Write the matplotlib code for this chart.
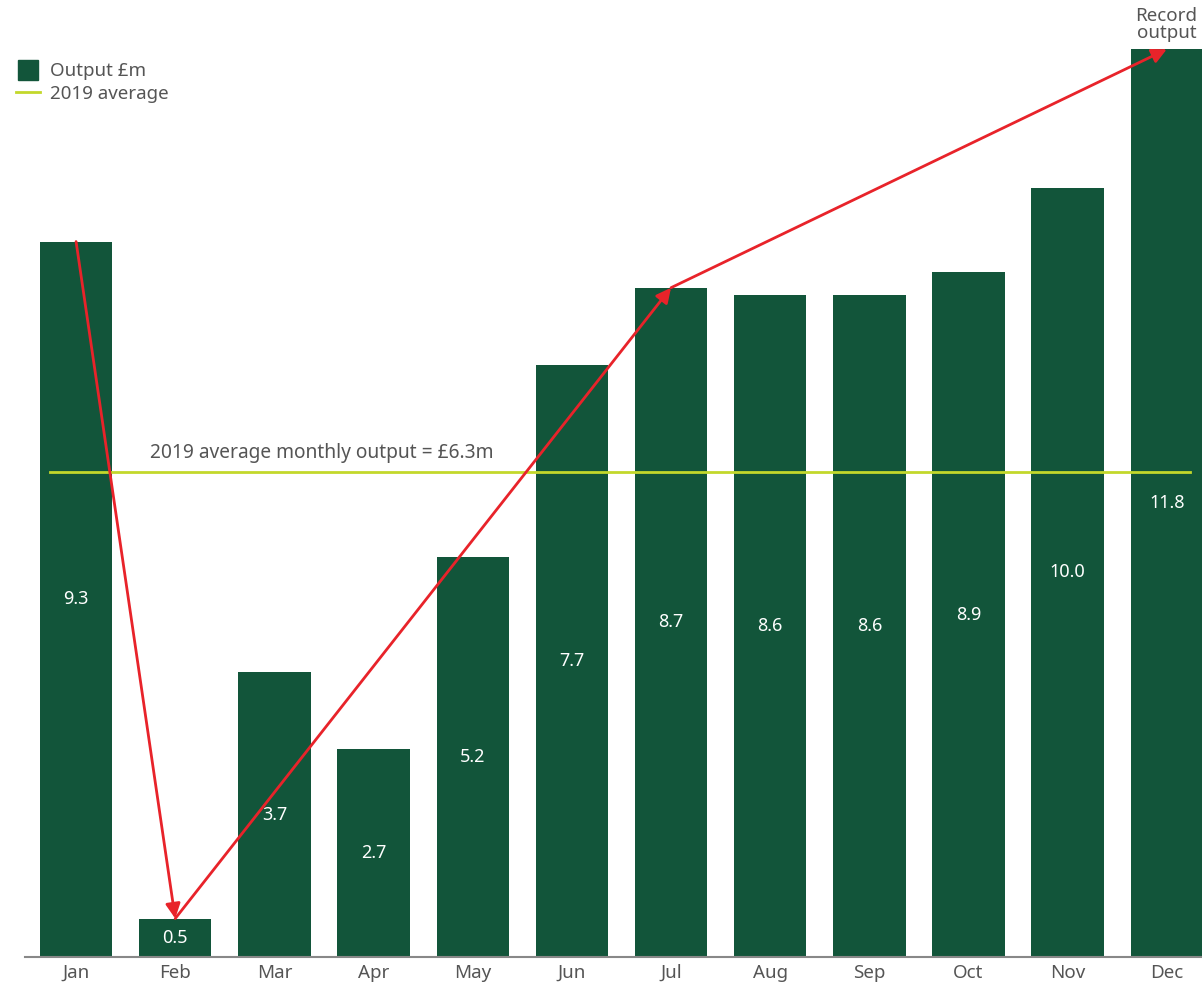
import matplotlib.pyplot as plt
from matplotlib.lines import Line2D

plt.rcParams["font.family"] = ["Noto Sans", "DejaVu Sans"]

months = ["Jan", "Feb", "Mar", "Apr", "May", "Jun", "Jul", "Aug", "Sep", "Oct", "Nov", "Dec"]
output = [9.3, 0.5, 3.7, 2.7, 5.2, 7.7, 8.7, 8.6, 8.6, 8.9, 10.0, 11.8]
avg_2019 = 6.3
arrow_path = ["Jan", "Feb", "Jul", "Dec"]

bar_col = "#12553a"
avg_col = "#c3d82b"
red = "#e8232a"
txt = "#555555"

fig = plt.figure(figsize=(12.02, 9.82), dpi=100)
ax = fig.add_axes([25 / 1202, 25 / 982, 1177 / 1202, 957 / 982])

x = list(range(len(months)))
ax.bar(x, output, width=0.73, color=bar_col, zorder=2)

# value labels in the middle of each bar
for xi, v in zip(x, output):
    ax.text(xi, v / 2, f"{v:.1f}", ha="center", va="center", color="white", fontsize=13, zorder=3)

# 2019 average line
ax.plot([-0.26, 11.23], [avg_2019, avg_2019], color=avg_col, lw=2, zorder=3)
ax.annotate("2019 average monthly output = £6.3m", xy=(0.75, avg_2019), xytext=(0, 7),
            textcoords="offset points", ha="left", va="bottom", color=txt, fontsize=13.8)

# red arrows between key months
idx = [months.index(m) for m in arrow_path]
for a, b in zip(idx[:-1], idx[1:]):
    ax.annotate("", xy=(b, output[b]), xytext=(a, output[a]),
                arrowprops=dict(arrowstyle="-|>", color=red, lw=2, mutation_scale=22,
                                shrinkA=0, shrinkB=0), zorder=4)

fig.text(1197 / 1202, 1 - 7 / 982, "Record\noutput", ha="right", va="top",
         color=txt, fontsize=13.5, linespacing=0.95)

ax.set_xlim(-0.515, 11.355)
ax.set_ylim(0, 12.44)
ax.set_xticks(x)
ax.set_xticklabels(months, fontsize=13.5, color=txt)
ax.tick_params(axis="x", length=0, pad=5)
ax.set_yticks([])
for s in ["top", "right", "left"]:
    ax.spines[s].set_visible(False)
ax.spines["bottom"].set_color("#888888")
ax.spines["bottom"].set_linewidth(1.5)

handles = [Line2D([], [], marker="s", markersize=14, linestyle="", color=bar_col, label="Output £m"),
           Line2D([], [], color=avg_col, lw=2, label="2019 average")]
fig.legend(handles=handles, loc="upper left", bbox_to_anchor=(0.004, 0.948), frameon=False,
           fontsize=13.5, labelcolor=txt, handlelength=1.3, handletextpad=0.5,
           labelspacing=0.25, borderaxespad=0.2)

fig.savefig("out.png", dpi=100)
